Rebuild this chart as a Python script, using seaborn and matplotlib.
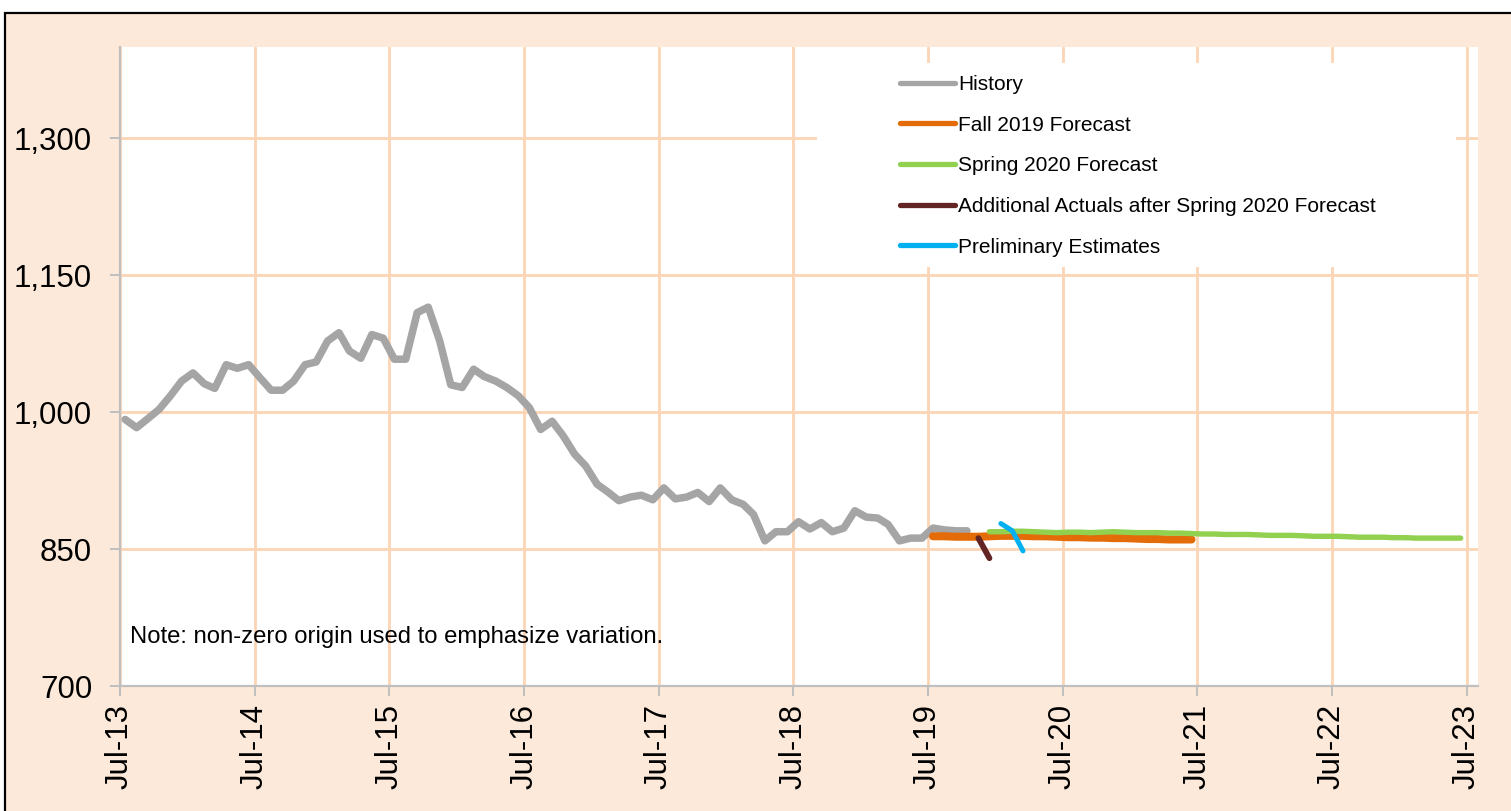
import numpy as np
import pandas as pd
import matplotlib
matplotlib.use("Agg")
import matplotlib.pyplot as plt
import matplotlib.dates as mdates
from matplotlib.patches import Rectangle
from matplotlib.ticker import FuncFormatter
import seaborn as sns

# ---------------- data ----------------
history_start = "2013-07-01"
history = [992, 983, 993, 1003, 1018, 1034, 1043, 1031, 1026, 1052, 1048, 1052,
           1038, 1024, 1024, 1034, 1052, 1055, 1078, 1087, 1067, 1059, 1085, 1081,
           1058, 1058, 1109, 1115, 1078, 1030, 1027, 1047, 1039, 1034, 1027, 1018,
           1005, 981, 990, 974, 954, 941, 921, 912, 903, 907, 909, 904,
           917, 905, 907, 912, 902, 917, 904, 899, 888, 859, 869, 869,
           880, 872, 879, 869, 873, 892, 885, 884, 877, 859, 862, 862,
           873, 871, 870, 870]

fall2019_start = "2019-07-01"
fall2019 = [864, 864, 863.5, 863.5, 863.5, 864, 864.5, 864.5, 864.5, 864, 864, 863.5,
            863, 863, 862.5, 862.5, 862, 862, 861.5, 861, 861, 860.5, 860.5, 860.5]

spring2020_start = "2019-12-01"
spring2020 = [869, 869, 869.5, 869.5, 869, 868.5, 868, 868.5, 868.5, 868, 868.5, 869,
              868.5, 868, 868, 868, 867.5, 867.5, 867, 866.5, 866.5, 866, 866, 866,
              865.5, 865, 865, 865, 864.5, 864, 864, 864, 863.5, 863, 863, 863,
              862.5, 862.5, 862, 862, 862, 862, 862]

actuals_start = "2019-11-01"
actuals = [862, 840]

prelim_start = "2020-01-01"
prelim = [878, 870, 848]

series_names = ["History", "Fall 2019 Forecast", "Spring 2020 Forecast",
                "Additional Actuals after Spring 2020 Forecast", "Preliminary Estimates"]
series_colors = ["#A5A5A5", "#E36C09", "#92D050", "#632523", "#00B0F0"]
series_widths = [5.4, 5.8, 3.9, 4.2, 3.6]

y_ticks = [700, 850, 1000, 1150, 1300]
x_tick_years = list(range(2013, 2024))
note_text = "Note: non-zero origin used to emphasize variation."


def mid_month_dates(start, n):
    return pd.date_range(start, periods=n, freq="MS") + pd.Timedelta(days=14)


frames = []
for name, start, vals in zip(series_names,
                             [history_start, fall2019_start, spring2020_start,
                              actuals_start, prelim_start],
                             [history, fall2019, spring2020, actuals, prelim]):
    frames.append(pd.DataFrame({"date": mid_month_dates(start, len(vals)),
                                "value": vals, "series": name}))
df = pd.concat(frames, ignore_index=True)

# ---------------- style ----------------
sns.set_theme(style="white")
plt.rcParams["font.family"] = ["Liberation Sans", "DejaVu Sans"]
plt.rcParams["text.color"] = "black"

W, H = 1511, 811
fig = plt.figure(figsize=(W / 100, H / 100), dpi=100, facecolor="white")

# peach chart-area background with black border
fig.patches.append(Rectangle((5 / W, -0.02), 1.2, 1 - 13 / H + 0.02,
                             transform=fig.transFigure, facecolor="#FDE9D9",
                             edgecolor="black", linewidth=1.6, zorder=-10))

ax = fig.add_axes([120 / W, 1 - 686 / H, (1478 - 120) / W, (686 - 47) / H])
ax.set_facecolor("white")
ax.set_axisbelow(True)

for name, color, lw in zip(series_names, series_colors, series_widths):
    sub = df[df["series"] == name]
    sns.lineplot(data=sub, x="date", y="value", ax=ax, color=color, linewidth=lw,
                 estimator=None, label=name, solid_capstyle="round",
                 solid_joinstyle="round", zorder=3)

ax.set_xlim(pd.Timestamp("2013-07-01"), pd.Timestamp("2023-08-01"))
ax.set_ylim(700, 1400)
ax.set_yticks(y_ticks)
ax.yaxis.set_major_formatter(FuncFormatter(lambda v, p: f"{int(v):,}"))
ax.set_xticks([pd.Timestamp(f"{y}-07-01") for y in x_tick_years])
ax.xaxis.set_major_formatter(mdates.DateFormatter("%b-%y"))
ax.set_xlabel("")
ax.set_ylabel("")

ax.grid(True, axis="both", color="#FCD5B4", linewidth=2.0)
for s in ["top", "right"]:
    ax.spines[s].set_visible(False)
for s in ["left", "bottom"]:
    ax.spines[s].set_color("#BFBFBF")
    ax.spines[s].set_linewidth(1.6)
    ax.spines[s].set_zorder(2.5)

ax.tick_params(axis="y", which="major", length=7, width=1.4, color="#BFBFBF",
               labelsize=22.5, labelcolor="black", pad=13, left=True)
ax.tick_params(axis="x", which="major", length=7, width=1.4, color="#BFBFBF",
               labelsize=22.5, labelcolor="black", pad=6, bottom=True,
               labelrotation=90)

# legend white box covering the grid
ax.add_patch(Rectangle(((817 - 120) / 1358, (686 - 267) / 639),
                       (1456 - 817) / 1358, (267 - 63) / 639,
                       transform=ax.transAxes, facecolor="white",
                       edgecolor="none", zorder=1.5))
leg = ax.legend(loc="upper left", bbox_to_anchor=((900 - 120) / 1358, (686 - 75) / 639),
                frameon=False, fontsize=15, handlelength=2.65, handletextpad=0.15,
                labelspacing=1.04, borderpad=0, borderaxespad=0)
for t in leg.get_texts():
    t.set_color("black")
for lh in leg.get_lines():
    lh.set_linewidth(3.8)
    lh.set_solid_capstyle("round")
leg.set_zorder(4)

ax.text((130 - 120) / 1358, (686 - 637) / 639, note_text, transform=ax.transAxes,
        fontsize=17.2, va="center", ha="left", color="black", zorder=4)

fig.savefig("out.png", dpi=100, facecolor=fig.get_facecolor())
